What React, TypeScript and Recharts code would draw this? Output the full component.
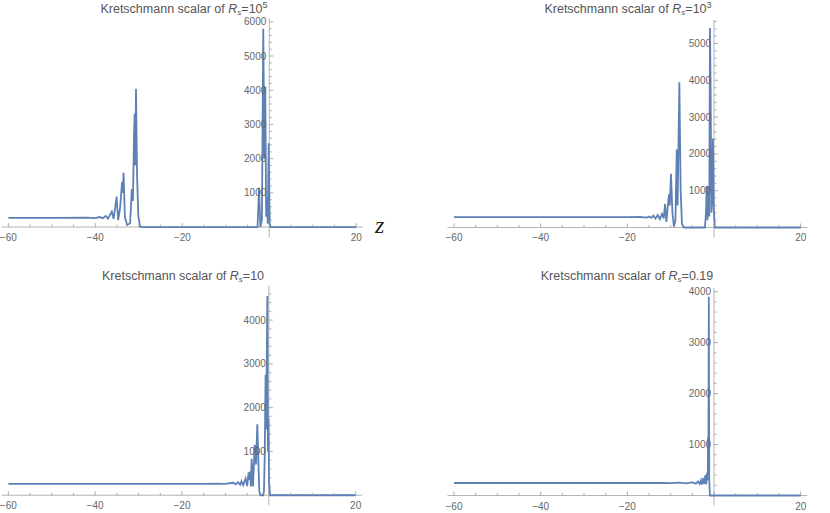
import { LineChart, Line, XAxis, YAxis, ReferenceLine, ReferenceDot } from 'recharts';

// ---- data (z, Kretschmann scalar) ----
const z1 = [-60, -50, -42, -40, -39, -38.3, -37.6, -37.1, -36.6, -36.2, -35.8, -35.4, -35.1, -34.75, -34.3, -33.85, -33.7, -33.5, -33.2, -32.7, -32.0, -31.6, -31.35, -31.1, -30.95, -30.8, -30.65, -30.4, -30.1, -29.7, -29.0, -2.7, -2.35, -2.05, -1.7, -1.38, -1.15, -0.92, -0.72, -0.55, -0.35, -0.14, 0.1, 0.3, 20];
const k1 = [270, 270, 275, 262, 292, 258, 325, 245, 360, 450, 240, 600, 890, 200, 560, 1320, 1000, 1590, 300, 60, 110, 1110, 760, 2690, 3320, 1800, 4040, 1500, 300, 10, 0, 0, 1150, 0, 200, 5800, 2000, 4100, 300, 850, 100, 2450, 100, 0, 0];

const z2 = [-60, -20, -17, -15.5, -15, -14.5, -14, -13.5, -13, -12.5, -12.0, -11.6, -11.3, -11.0, -10.4, -10.2, -9.93, -9.6, -9.25, -8.9, -8.6, -8.4, -8.0, -7.7, -7.4, -7.0, -2.1, -1.85, -1.7, -1.5, -1.3, -1.1, -0.93, -0.8, -0.6, -0.45, -0.24, -0.05, 0.2, 20];
const k2 = [280, 280, 285, 270, 300, 260, 320, 240, 340, 230, 370, 250, 640, 150, 900, 600, 1460, 400, 20, 200, 2120, 600, 3950, 1000, 100, 0, 0, 400, 1130, 200, 1100, 300, 5420, 4000, 400, 700, 2420, 500, 0, 0];

const z3 = [-60, -15, -12, -10, -8.2, -7.6, -7.1, -6.6, -6.3, -5.9, -5.35, -5.0, -4.65, -4.45, -4.3, -4.15, -3.96, -3.65, -3.26, -2.96, -2.66, -2.45, -2.2, -1.95, -1.3, -1.12, -0.95, -0.75, -0.62, -0.5, -0.35, -0.22, -0.08, 0.05, 0.3, 20];
const k3 = [260, 260, 262, 258, 285, 250, 300, 240, 320, 230, 380, 210, 520, 350, 540, 200, 830, 200, 1150, 700, 1620, 900, 100, 0, 0, 100, 900, 2750, 1500, 2850, 4550, 1000, 1750, 300, 0, 0];

const z4 = [-60, -14, -12, -10, -8, -6.5, -5, -4.2, -3.7, -3.3, -3.0, -2.75, -2.5, -2.25, -2.0, -1.8, -1.6, -1.45, -1.38, -1.3, -1.2, -1.1, -0.95, 20];
const k4 = [245, 245, 248, 242, 252, 238, 258, 232, 275, 225, 300, 215, 340, 230, 400, 220, 450, 300, 1150, 500, 3900, 300, 0, 0];

const xMajorTicks = [-60, -40, -20, 0, 20];
const xMinorTicks = [-55, -50, -45, -35, -30, -25, -15, -10, -5, 5, 10, 15];

const titles = ['10', '10', '10', '0.19'];
const titleSups = ['5', '3', '', ''];

// ---- styling / layout ----
const LINE = '#5e81b5';
const AXIS = '#b5b5b5';
const TICK = '#999999';
const TEXT = '#666666';
const FONT = '"Liberation Sans", Arial, sans-serif';

const panels = [
  { z: z1, k: k1, yMax: 6100, yMin: -300, margin: { left: 1.8, right: 467.2, top: 18.4, bottom: 275.7 }, titleX: 184, titleY: 13 },
  { z: z2, k: k2, yMax: 5640, yMin: -280, margin: { left: 447.5, right: 22.8, top: 20, bottom: 275.2 }, titleX: 628, titleY: 13 },
  { z: z3, k: k3, yMax: 4790, yMin: -230, margin: { left: 1.8, right: 467.8, top: 285.5, bottom: 7.7 }, titleX: 183, titleY: 280 },
  { z: z4, k: k4, yMax: 4070, yMin: -200, margin: { left: 447.5, right: 22.8, top: 288.1, bottom: 7.3 }, titleX: 627, titleY: 280 },
];

const fmt = (v: number) => (v < 0 ? `\u2212${-v}` : `${v}`);

const XTick = ({ cx, cy, value, major }: any) => (
  <g>
    <line x1={cx} x2={cx} y1={cy} y2={cy - (major ? 4 : 2.5)} stroke={TICK} strokeWidth={0.8} />
    {major && value !== 0 && (
      <text x={cx} y={cy + 14} textAnchor="middle" fontSize={10} fontFamily={FONT} fill={TEXT}>
        {fmt(value)}
      </text>
    )}
  </g>
);

const YTick = ({ cx, cy, value, major }: any) => (
  <g>
    <line x1={cx} x2={cx + (major ? 4 : 2.5)} y1={cy} y2={cy} stroke={TICK} strokeWidth={0.8} />
    {major && (
      <text x={cx - 3} y={cy + 3.5} textAnchor="end" fontSize={10} fontFamily={FONT} fill={TEXT}>
        {value}
      </text>
    )}
  </g>
);

const Panel = ({ p }: any) => {
  const data = p.z.map((z: number, i: number) => ({ z, k: p.k[i] }));
  const yTicks: { v: number; major: boolean }[] = [];
  for (let v = 200; v <= p.yMax; v += 200) yTicks.push({ v, major: v % 1000 === 0 });
  return (
    <div style={{ position: 'absolute', left: 0, top: 0 }}>
      <LineChart width={830} height={513} data={data} margin={p.margin}>
        <XAxis type="number" dataKey="z" domain={[-61.5, 21.5]} hide allowDataOverflow />
        <YAxis type="number" domain={[p.yMin, p.yMax]} hide allowDataOverflow />
        <ReferenceLine x={0} stroke={AXIS} strokeWidth={1} />
        <ReferenceLine y={0} stroke={AXIS} strokeWidth={1} />
        {xMajorTicks.map((t) => (
          <ReferenceDot key={'M' + t} x={t} y={0} r={0} shape={(s: any) => <XTick {...s} value={t} major />} />
        ))}
        {xMinorTicks.map((t) => (
          <ReferenceDot key={'m' + t} x={t} y={0} r={0} shape={(s: any) => <XTick {...s} value={t} major={false} />} />
        ))}
        {yTicks.map((t) => (
          <ReferenceDot key={'y' + t.v} x={0} y={t.v} r={0} shape={(s: any) => <YTick {...s} value={t.v} major={t.major} />} />
        ))}
        <Line type="linear" dataKey="k" stroke={LINE} strokeWidth={1.8} dot={false} isAnimationActive={false} />
      </LineChart>
    </div>
  );
};

export default function App() {
  return (
    <div style={{ position: 'absolute', left: 0, top: 0, width: 830, height: 513, background: '#fff', fontFamily: FONT }}>
      {panels.map((p, i) => (
        <Panel key={i} p={p} />
      ))}
      {panels.map((p, i) => (
        <div
          key={'t' + i}
          style={{
            position: 'absolute',
            left: p.titleX - 150,
            width: 300,
            top: p.titleY - 11,
            textAlign: 'center',
            fontSize: 12.5,
            lineHeight: '14px',
            color: '#555',
            whiteSpace: 'nowrap',
          }}
        >
          Kretschmann scalar of <i>R</i>
          <sub style={{ fontSize: 8, lineHeight: 0, verticalAlign: '-2px', fontStyle: 'italic' }}>s</sub>={titles[i]}
          {titleSups[i] && <sup style={{ fontSize: 9, lineHeight: 0, verticalAlign: '5px' }}>{titleSups[i]}</sup>}
        </div>
      ))}
      <div
        style={{
          position: 'absolute',
          left: 375,
          top: 212,
          fontFamily: '"Liberation Serif", "DejaVu Serif", serif',
          fontStyle: 'italic',
          fontSize: 24,
          color: '#222',
        }}
      >
        z
      </div>
    </div>
  );
}
